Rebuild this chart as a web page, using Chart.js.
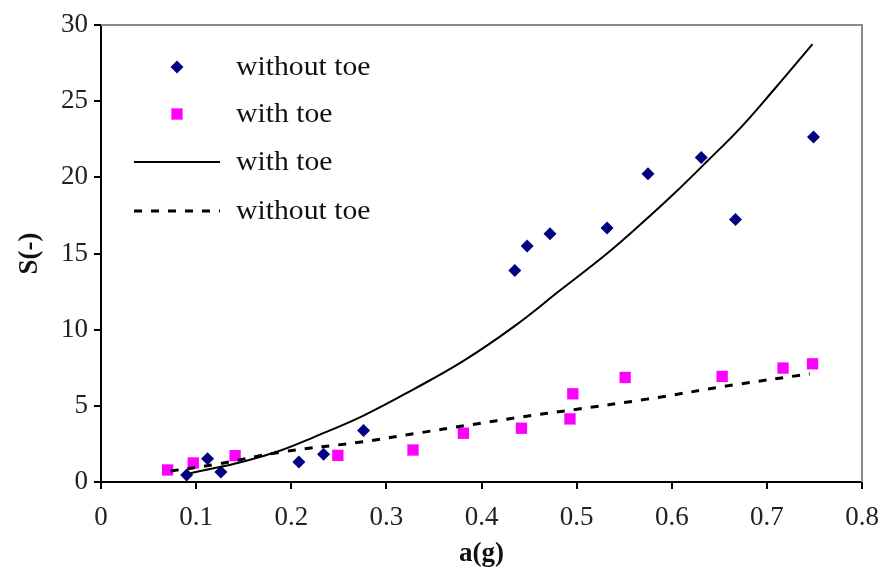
<!DOCTYPE html>
<html>
<head>
<meta charset="utf-8">
<script src="https://cdn.jsdelivr.net/npm/chart.js@4.4.0/dist/chart.umd.min.js"></script>
<style>
  html, body { margin: 0; padding: 0; background: #fff; }
  .chart-container { width: 882px; height: 572px; position: relative; }
</style>
</head>
<body>
<div class="chart-container"><canvas id="chart" aria-label="S versus a(g) chart" role="img"></canvas></div>
<script>
// measured points
const withoutToeX = [0.090, 0.112, 0.126, 0.208, 0.234, 0.276, 0.435, 0.448, 0.472, 0.532, 0.575, 0.631, 0.667, 0.749];
const withoutToeY = [0.46, 1.53, 0.66, 1.32, 1.82, 3.38, 13.88, 15.5, 16.3, 16.67, 20.24, 21.3, 17.24, 22.65];
const withToeX = [0.070, 0.097, 0.141, 0.249, 0.328, 0.381, 0.442, 0.493, 0.496, 0.551, 0.653, 0.717, 0.748];
const withToeY = [0.79, 1.25, 1.73, 1.75, 2.1, 3.2, 3.53, 4.14, 5.79, 6.86, 6.93, 7.48, 7.76];

// fitted curves
const withToeFitX = [0.094, 0.15, 0.188, 0.224, 0.276, 0.329, 0.381, 0.434, 0.483, 0.532, 0.567, 0.602, 0.638, 0.673, 0.708, 0.748];
const withToeFitY = [0.57, 1.35, 2.05, 2.95, 4.36, 6.1, 7.95, 10.2, 12.6, 15.0, 16.9, 18.9, 21.1, 23.3, 25.8, 28.75];
const withoutToeFitX = [0.073, 0.12, 0.188, 0.276, 0.332, 0.388, 0.441, 0.497, 0.574, 0.666, 0.745];
const withoutToeFitY = [0.72, 1.15, 1.95, 2.65, 3.2, 3.75, 4.26, 4.75, 5.44, 6.38, 7.1];

const xTicks = [0, 0.1, 0.2, 0.3, 0.4, 0.5, 0.6, 0.7, 0.8];
const yTicks = [0, 5, 10, 15, 20, 25, 30];

const SERIF = '"Liberation Serif", "Times New Roman", serif';

const toPoints = (xs, ys) => xs.map((x, i) => ({ x, y: ys[i] }));

const legendPlugin = {
  id: 'insideLegend',
  afterDraw(chart) {
    const { ctx } = chart;
    const rows = [
      { ds: 0, y: 67 },
      { ds: 1, y: 114 },
      { ds: 2, y: 162 },
      { ds: 3, y: 211 },
    ];
    ctx.save();
    rows.forEach(({ ds, y }) => {
      const set = chart.data.datasets[ds];
      if (set.showLine) {
        ctx.save();
        ctx.strokeStyle = set.borderColor;
        ctx.lineWidth = set.borderWidth;
        ctx.setLineDash(set.borderDash || []);
        ctx.beginPath();
        ctx.moveTo(134, y);
        ctx.lineTo(220, y);
        ctx.stroke();
        ctx.restore();
      } else {
        ctx.save();
        ctx.fillStyle = set.backgroundColor;
        Chart.helpers.drawPoint(ctx, {
          pointStyle: set.pointStyle,
          radius: set.pointRadius,
          borderWidth: 0,
        }, 177, y);
        ctx.restore();
      }
      // the original text is a little wider than Times, stretch it a bit
      ctx.save();
      ctx.translate(236, y + 1);
      ctx.scale(1.1, 1);
      ctx.font = `27px ${SERIF}`;
      ctx.fillStyle = '#111';
      ctx.textBaseline = 'middle';
      ctx.fillText(set.label, 0, 0);
      ctx.restore();
    });
    ctx.restore();
  },
};

const framePlugin = {
  id: 'frame',
  afterDatasetsDraw(chart) {
    const { ctx, chartArea: a } = chart;
    ctx.save();
    ctx.strokeStyle = '#8a8a8a';
    ctx.lineWidth = 2;
    ctx.beginPath();
    ctx.moveTo(a.left, a.top);
    ctx.lineTo(a.right, a.top);
    ctx.lineTo(a.right, a.bottom);
    ctx.stroke();
    ctx.restore();
  },
};

new Chart(document.getElementById('chart'), {
  type: 'scatter',
  data: {
    datasets: [
      {
        label: 'without toe',
        data: toPoints(withoutToeX, withoutToeY),
        pointStyle: 'rectRot',
        pointRadius: 6.5,
        backgroundColor: '#000080',
        borderWidth: 0,
        showLine: false,
        order: 1,
      },
      {
        label: 'with toe',
        data: toPoints(withToeX, withToeY),
        pointStyle: 'rect',
        pointRadius: 8,
        backgroundColor: '#ff00ff',
        borderWidth: 0,
        showLine: false,
        order: 2,
      },
      {
        label: 'with toe',
        data: toPoints(withToeFitX, withToeFitY),
        showLine: true,
        borderColor: '#000',
        borderWidth: 2,
        pointRadius: 0,
        tension: 0.4,
        order: 0,
      },
      {
        label: 'without toe',
        data: toPoints(withoutToeFitX, withoutToeFitY),
        showLine: true,
        borderColor: '#000',
        borderWidth: 3,
        borderDash: [8, 9],
        pointRadius: 0,
        tension: 0.4,
        order: 0,
      },
    ],
  },
  options: {
    responsive: true,
    maintainAspectRatio: false,
    animation: false,
    events: [],
    layout: { padding: { top: 25, right: 20, left: 0, bottom: 0 } },
    plugins: {
      legend: { display: false },
      tooltip: { enabled: false },
    },
    scales: {
      x: {
        type: 'linear',
        min: 0,
        max: 0.8,
        afterFit(scale) {
          scale.height = 90;
          scale.paddingLeft = 0;
          scale.paddingRight = 0;
        },
        afterBuildTicks(scale) { scale.ticks = xTicks.map(v => ({ value: v })); },
        grid: { drawOnChartArea: false, drawTicks: true, tickLength: 7, color: '#000', lineWidth: 2 },
        border: { display: true, color: '#000', width: 2 },
        ticks: {
          font: { family: SERIF, size: 27 },
          color: '#222',
          padding: 13,
          maxRotation: 0,
          callback: v => (v === 0 ? '0' : String(Math.round(v * 10) / 10)),
        },
        title: {
          display: true,
          text: 'a(g)',
          font: { family: SERIF, size: 27, weight: 'bold' },
          color: '#111',
          padding: { top: 0, bottom: 2 },
        },
      },
      y: {
        type: 'linear',
        min: 0,
        max: 30,
        afterFit(scale) {
          scale.width = 101;
          scale.paddingTop = 0;
          scale.paddingBottom = 0;
        },
        afterBuildTicks(scale) { scale.ticks = yTicks.map(v => ({ value: v })); },
        grid: { drawOnChartArea: false, drawTicks: true, tickLength: 7, color: '#000', lineWidth: 2 },
        border: { display: true, color: '#000', width: 2 },
        ticks: {
          font: { family: SERIF, size: 27 },
          color: '#222',
          padding: 6,
        },
        title: {
          display: true,
          text: 'S(-)',
          font: { family: SERIF, size: 27, weight: 'bold' },
          color: '#111',
          padding: { top: 14, bottom: 0 },
        },
      },
    },
  },
  plugins: [framePlugin, legendPlugin],
});
</script>
</body>
</html>
